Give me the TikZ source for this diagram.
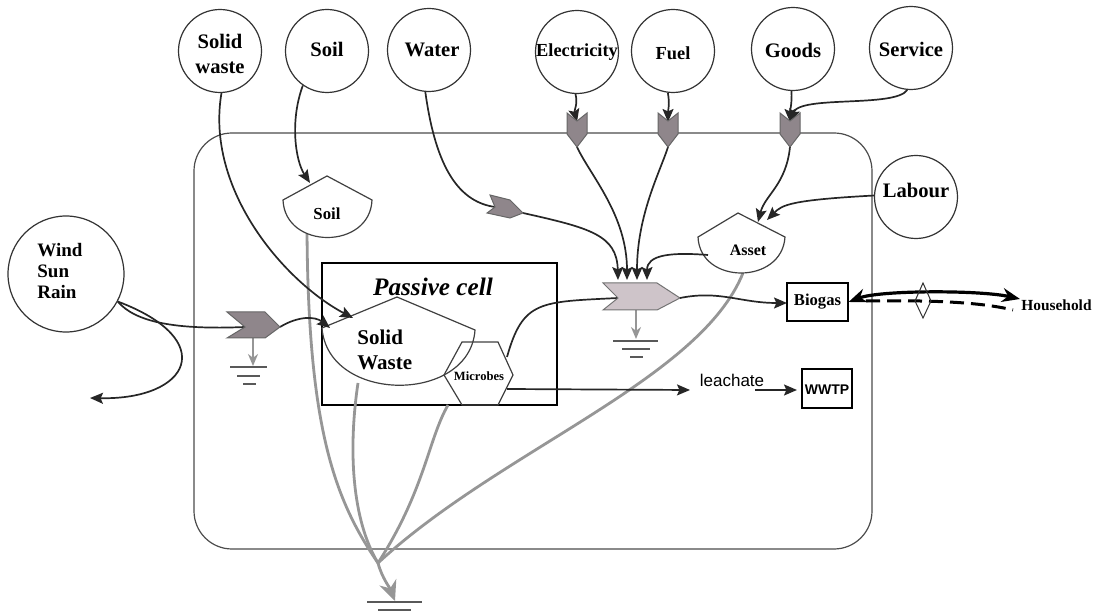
\documentclass[tikz,border=0pt]{standalone}
\usepackage{fontspec}
\setmainfont{Liberation Serif}
\newfontfamily\arialf{Liberation Sans}
\usetikzlibrary{arrows.meta}
\definecolor{chevgray}{RGB}{143,134,139}
\definecolor{chevlight}{RGB}{206,196,201}
\definecolor{glinec}{RGB}{150,150,150}
\begin{document}
\begin{tikzpicture}[x=0.5pt,y=-0.5pt,
  circ/.style={circle, draw=black!80, line width=0.6pt, fill=white, minimum size=41.5pt, inner sep=0pt},
  bigcirc/.style={circ, minimum size=58pt},
  lab/.style={font=\bfseries\fontsize{10.3}{12.5}\selectfont, align=center, inner sep=0pt},
  smalllab/.style={font=\bfseries\fontsize{9.2}{11}\selectfont, align=center, inner sep=0pt},
  conn/.style={draw=black!85, line width=0.85pt, -{Stealth[length=6.5pt,width=5.5pt,inset=1.2pt]}},
  plainc/.style={draw=black!85, line width=0.85pt},
  gline/.style={draw=glinec, line width=1.4pt},
  garrow/.style={draw=glinec, fill=glinec, line width=1.2pt, -{Stealth[length=6pt,width=5pt]}},
  gnd/.style={draw=black!65, line width=0.8pt},
  chev/.style={fill=chevgray, draw=black!60, line width=0.5pt},
  store/.style={draw=black!75, line width=0.6pt, fill=white},
  boxn/.style={draw=black, line width=0.55pt, fill=white, inner sep=0pt}
]
\useasboundingbox (0,0) rectangle (1098,614);

% system boundary
\draw[black!70, line width=0.6pt, rounded corners=19pt] (194,133) rectangle (872,549);

% passive cell
\draw[black, line width=0.55pt] (322,263) rectangle (557,405);
\node[font=\bfseries\itshape\fontsize{12.6}{14}\selectfont, inner sep=0pt] (pcell) at (433,287) {Passive cell};

% coordinates for grey flows
\coordinate (soilbot) at (307,229);
\coordinate (swbot) at (358,383);
\coordinate (micbot) at (448,405);
\coordinate (assetbot) at (743,273);
\coordinate (gmeet) at (378,563);
\coordinate (gtip) at (395,601);

% grey flows to heat sink
\draw[gline] (soilbot) .. controls (308,430) and (335,500) .. (gmeet);
\draw[gline] (swbot) .. controls (348,450) and (352,520) .. (gmeet);
\draw[gline] (micbot) .. controls (428,440) and (425,490) .. (gmeet);
\draw[gline] (assetbot) .. controls (700,380) and (500,450) .. (gmeet);
\draw[draw=glinec, line width=1.4pt, -{Stealth[length=10pt,width=9pt]}] (gmeet) .. controls (382,578) and (390,588) .. (gtip);
\draw[gnd] (367,602) -- (422,602);
\draw[gnd] (378,610) -- (411,610);

% circles (sources)
\node[circ] (swc) at (220,51) {};
\node[lab] (swl) at (220,54) {Solid\\waste};
\node[circ] (soilc) at (327,51) {};
\node[lab] (soill) at (327,49) {Soil};
\node[circ] (waterc) at (429,50) {};
\node[lab] (waterl) at (432,50) {Water};
\node[circ] (elecc) at (577,52) {};
\node[smalllab] (elecl) at (577,52) {Electricity};
\node[circ] (fuelc) at (673,51) {};
\node[smalllab] (fuell) at (673,53) {Fuel};
\node[circ] (goodsc) at (793,49) {};
\node[lab] (goodsl) at (793,50) {Goods};
\node[circ] (servc) at (911,48) {};
\node[lab] (servl) at (911,49) {Service};
\node[circ] (labc) at (916,197) {};
\node[lab] (labl) at (916,190) {Labour};
\node[bigcirc] (windc) at (66,274) {};
\node[font=\bfseries\fontsize{9.5}{10.5}\selectfont, align=left, inner sep=0pt, anchor=west] (windl) at (37,271) {Wind\\Sun\\Rain};

% storages
\draw[store] (283,200) -- (327,176) -- (372,200) .. controls (370,250) and (285,250) .. (283,200) -- cycle;
\node[font=\bfseries\fontsize{8.4}{10}\selectfont, inner sep=0pt] (soilt) at (327,214) {Soil};
\draw[store] (322,328) -- (397,297) -- (475,330) .. controls (470,404) and (328,404) .. (322,328) -- cycle;
\node[font=\bfseries\fontsize{10.5}{12.5}\selectfont, align=left, inner sep=0pt, anchor=west] (swt) at (357,350) {Solid\\Waste};
\draw[store] (698,237) -- (738,213) -- (785,237) .. controls (782,285) and (700,285) .. (698,237) -- cycle;
\node[font=\bfseries\fontsize{8}{10}\selectfont, inner sep=0pt] (assett) at (748,250) {Asset};

% microbes
\draw[black!75, line width=0.6pt] (444,375) -- (462,342) -- (498,342) -- (513,375) -- (498,405) -- (462,405) -- cycle;
\node[font=\bfseries\fontsize{6.3}{7}\selectfont, inner sep=0pt] (mict) at (479,376) {Microbes};

% coordinates
\coordinate (elecn) at (577,122);
\coordinate (elecb) at (577,147);
\coordinate (fueln) at (668,122);
\coordinate (fuelb) at (668,147);
\coordinate (goodsn) at (790,122);
\coordinate (goodsb) at (790,147);
\coordinate (watern) at (495,207);
\coordinate (watert) at (523,213);
\coordinate (leftn) at (245,327);
\coordinate (leftt) at (280,327);
\coordinate (cenn) at (618,298);
\coordinate (cent) at (680,298);
\coordinate (cenb) at (636,310);
\coordinate (leftb) at (253,338);
\coordinate (in1) at (618,280);
\coordinate (in2) at (627,280);
\coordinate (in3) at (637,280);
\coordinate (in4) at (647,280);
\coordinate (assetin1) at (758,222);
\coordinate (assetin2) at (767,220);
\coordinate (assetl) at (708,255);
\coordinate (soilapex) at (310,183);
\coordinate (swin1) at (353,318);
\coordinate (swin2) at (330,328);
\coordinate (micr1) at (507,357);
\coordinate (micr2) at (507,389);
\coordinate (leachend) at (690,390);
\coordinate (leachst) at (755,390);
\coordinate (windout) at (90,398);

% black flows
\draw[conn] (elecc.268) .. controls (578,105) and (574,110) .. (elecn);
\draw[conn] (fuelc.263) .. controls (670,105) and (668,110) .. (fueln);
\draw[conn] (goodsc.268) .. controls (792,105) and (790,110) .. (goodsn);
\draw[conn] (servc.265) .. controls (895,108) and (800,95) .. (goodsn);
\draw[conn] (soilc.235) .. controls (290,120) and (295,160) .. (soilapex);
\draw[conn] (swc.272) .. controls (205,190) and (285,282) .. (swin1);
\draw[plainc] (waterc.265) .. controls (436,170) and (460,202) .. (watern);
\draw[conn] (watert) .. controls (590,228) and (617,235) .. (in1);
\draw[conn] (elecb) .. controls (590,175) and (627,215) .. (in2);
\draw[conn] (fuelb) .. controls (660,172) and (637,215) .. (in3);
\draw[conn] (assetl) .. controls (670,252) and (647,255) .. (in4);
\draw[conn] (goodsb) .. controls (786,185) and (765,195) .. (assetin1);
\draw[conn] (labc.178) .. controls (790,200) and (782,205) .. (assetin2);
\draw[plainc] (windc.332) .. controls (135,322) and (175,330) .. (leftn);
\draw[conn] (windc.332) .. controls (220,340) and (190,400) .. (windout);
\draw[conn] (leftt) .. controls (298,316) and (315,316) .. (swin2);
\draw[plainc] (micr1) .. controls (523,300) and (540,302) .. (cenn);
\draw[conn] (micr2) -- (leachend);
\draw[conn] (leachst) -- (797,390);

% grounds
\draw[garrow] (cenb) -- (636,339);
\draw[gnd] (613,341) -- (658,341);
\draw[gnd] (622,349) -- (650,349);
\draw[gnd] (630,357) -- (643,357);
\draw[garrow] (leftb) -- (253,366);
\draw[gnd] (230,367) -- (267,367);
\draw[gnd] (237,376) -- (260,376);
\draw[gnd] (243,384) -- (256,384);

% chevrons
\draw[chev] (567,113) -- (577,121) -- (587,113) -- (587,134) -- (577,147) -- (567,134) -- cycle;
\draw[chev] (658,113) -- (668,121) -- (678,113) -- (678,134) -- (668,147) -- (658,134) -- cycle;
\draw[chev] (780,113) -- (790,121) -- (800,113) -- (800,134) -- (790,147) -- (780,134) -- cycle;
\draw[chev] (490,195) -- (510,200) -- (523,213) -- (510,218) -- (487,213) -- (495,207) -- cycle;
\draw[chev] (227,312) -- (265,312) -- (280,327) -- (265,338) -- (227,338) -- (245,327) -- cycle;
\draw[fill=chevlight, draw=black!55, line width=0.5pt] (603,283) -- (657,283) -- (680,298) -- (657,310) -- (603,310) -- (618,298) -- cycle;

% outputs
\draw[conn] (cent) .. controls (720,290) and (740,303) .. (787,303);
\node[boxn, minimum width=30.5pt, minimum height=19pt] (biogas) at (817.5,302) {};
\node[font=\bfseries\fontsize{8.3}{10}\selectfont, inner sep=0pt] (biogast) at (817.5,302) {Biogas};
\node[font=\arialf\fontsize{8.5}{10}\selectfont, inner sep=0pt] (leach) at (732,380) {leachate};
\node[boxn, minimum width=25pt, minimum height=19.5pt] (wwtp) at (827,388.5) {};
\node[font=\arialf\bfseries\fontsize{7}{8}\selectfont, inner sep=0pt] (wwtpt) at (827,390) {WWTP};
\node[font=\bfseries\fontsize{7.7}{9}\selectfont, inner sep=0pt, anchor=west] (house) at (1021,305) {Household};

\coordinate (hin) at (1020,299);
\coordinate (hdash) at (1013,310);
\draw[black, line width=1.6pt, {Stealth[length=9pt,width=7pt]}-{Stealth[length=9pt,width=7pt]}] (biogas.east) .. controls (880,290) and (980,290) .. (hin);
\draw[black, line width=1.5pt, dash pattern=on 7pt off 3.5pt] (866,301) .. controls (930,300) and (980,302) .. (hdash);
\draw[black!80, line width=0.5pt] (923,283) -- (931,301) -- (923,318) -- (915,301) -- cycle;
\end{tikzpicture}
\end{document}
